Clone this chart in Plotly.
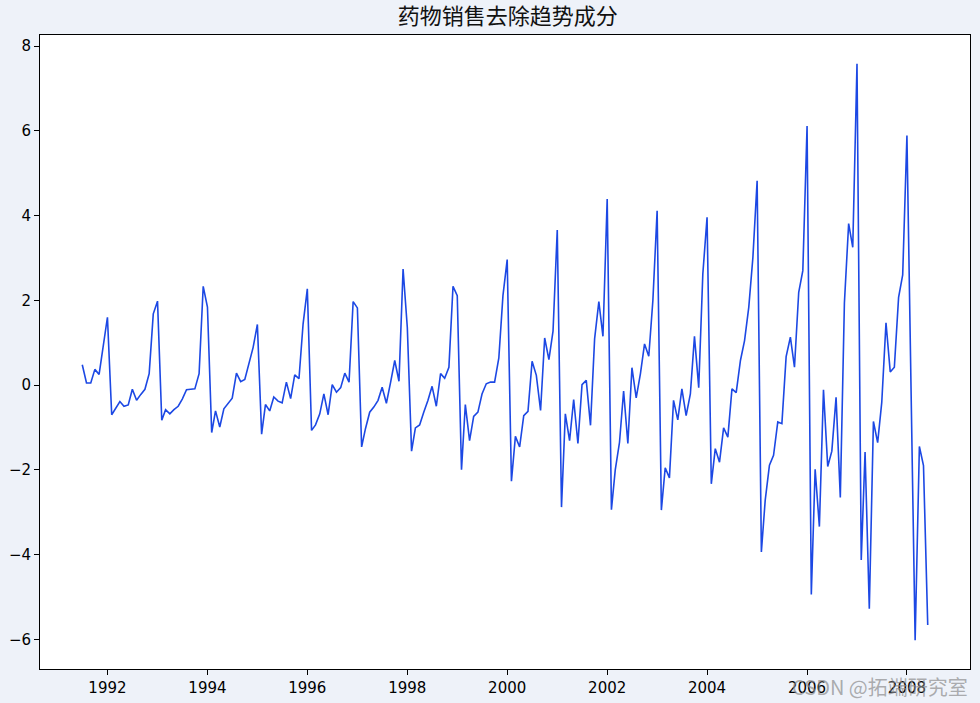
import pandas as pd
import plotly.graph_objects as go

title_text = "药物销售去除趋势成分"
watermark = "CSDN @拓端研究室"

start_month = "1991-07-01"
values = [
    0.48, 0.05, 0.05, 0.37, 0.25, 0.91,
    1.60, -0.70, -0.56, -0.39, -0.50, -0.47, -0.10, -0.36, -0.22, -0.10, 0.27, 1.68,
    1.98, -0.83, -0.58, -0.68, -0.58, -0.50, -0.33, -0.11, -0.10, -0.09, 0.27, 2.33,
    1.84, -1.12, -0.61, -0.99, -0.56, -0.43, -0.31, 0.28, 0.08, 0.13, 0.50, 0.89,
    1.43, -1.16, -0.46, -0.61, -0.28, -0.38, -0.42, 0.07, -0.32, 0.24, 0.15, 1.44,
    2.27, -1.07, -0.94, -0.68, -0.21, -0.70, 0.01, -0.17, -0.06, 0.28, 0.07, 1.97,
    1.82, -1.46, -1.03, -0.64, -0.52, -0.36, -0.05, -0.43, 0.07, 0.58, 0.09, 2.74,
    1.36, -1.56, -1.01, -0.94, -0.64, -0.36, -0.03, -0.50, 0.27, 0.16, 0.42, 2.33,
    2.11, -2.00, -0.46, -1.31, -0.74, -0.64, -0.21, 0.03, 0.07, 0.07, 0.64, 2.11,
    2.96, -2.27, -1.21, -1.46, -0.72, -0.62, 0.56, 0.23, -0.60, 1.11, 0.60, 1.27,
    3.66, -2.88, -0.68, -1.31, -0.34, -1.38, 0.01, 0.11, -0.95, 1.09, 1.97, 1.15,
    4.39, -2.94, -2.00, -1.35, -0.14, -1.38, 0.41, -0.30, 0.27, 0.97, 0.68, 2.00,
    4.11, -2.95, -1.95, -2.19, -0.36, -0.82, -0.09, -0.72, -0.21, 1.15, -0.06, 2.62,
    3.96, -2.33, -1.50, -1.82, -1.01, -1.23, -0.09, -0.18, 0.58, 1.05, 1.84, 3.01,
    4.82, -3.94, -2.72, -1.89, -1.66, -0.87, -0.91, 0.67, 1.13, 0.42, 2.19, 2.70,
    6.11, -4.94, -1.99, -3.34, -0.11, -1.92, -1.56, -0.29, -2.65, 1.94, 3.81, 3.25,
    7.58, -4.13, -1.58, -5.28, -0.86, -1.36, -0.41, 1.47, 0.31, 0.42, 2.07, 2.60,
    5.89, -0.07, -6.02, -1.45, -1.90, -5.66,
]
dates = pd.date_range(start_month, periods=len(values), freq="MS")

x_tick_years = [1992, 1994, 1996, 1998, 2000, 2002, 2004, 2006, 2008]
y_ticks = [-6, -4, -2, 0, 2, 4, 6, 8]

# matplotlib-like 5% margins
span = dates[-1] - dates[0]
x_range = [dates[0] - span * 0.05, dates[-1] + span * 0.05]
vmin, vmax = min(values), max(values)
vspan = vmax - vmin
y_range = [vmin - 0.05 * vspan, vmax + 0.05 * vspan]

fig = go.Figure()
fig.add_trace(go.Scatter(
    x=dates, y=values, mode="lines",
    line=dict(color="#1c48e4", width=1.6),
    showlegend=False,
))

fig.update_layout(
    width=980, height=703,
    paper_bgcolor="#eef2f9",
    plot_bgcolor="white",
    margin=dict(l=40, r=10, t=35, b=34, autoexpand=False),
    title=dict(text=title_text, x=0.518, xanchor="center",
               yref="container", y=1 - 16 / 703, yanchor="middle",
               font=dict(family="Noto Sans CJK SC", size=22, color="#111111")),
    font=dict(family="DejaVu Sans", size=15, color="black"),
)
fig.update_xaxes(
    type="date", range=x_range, automargin=False,
    tickvals=[pd.Timestamp(f"{y}-01-01") for y in x_tick_years],
    ticktext=[str(y) for y in x_tick_years],
    showline=True, linecolor="black", linewidth=1, mirror=True,
    ticks="outside", ticklen=5, tickcolor="black", showgrid=False, zeroline=False,
)
fig.update_yaxes(
    range=y_range, automargin=False,
    tickvals=y_ticks,
    ticktext=[str(v).replace("-", "\u2212") for v in y_ticks],
    showline=True, linecolor="black", linewidth=1, mirror=True,
    ticks="outside", ticklen=5, tickcolor="black", showgrid=False, zeroline=False,
)
fig.add_annotation(
    text=watermark, xref="paper", yref="paper", x=1.0, y=-0.028,
    xanchor="right", yanchor="middle", showarrow=False,
    font=dict(family="Noto Sans CJK SC", size=20, color="rgba(140,140,140,0.7)"),
)

fig.write_html(
    "out.html",
    config={"displayModeBar": False},
    post_script="document.body.style.margin='0';document.body.style.overflow='hidden';",
)
